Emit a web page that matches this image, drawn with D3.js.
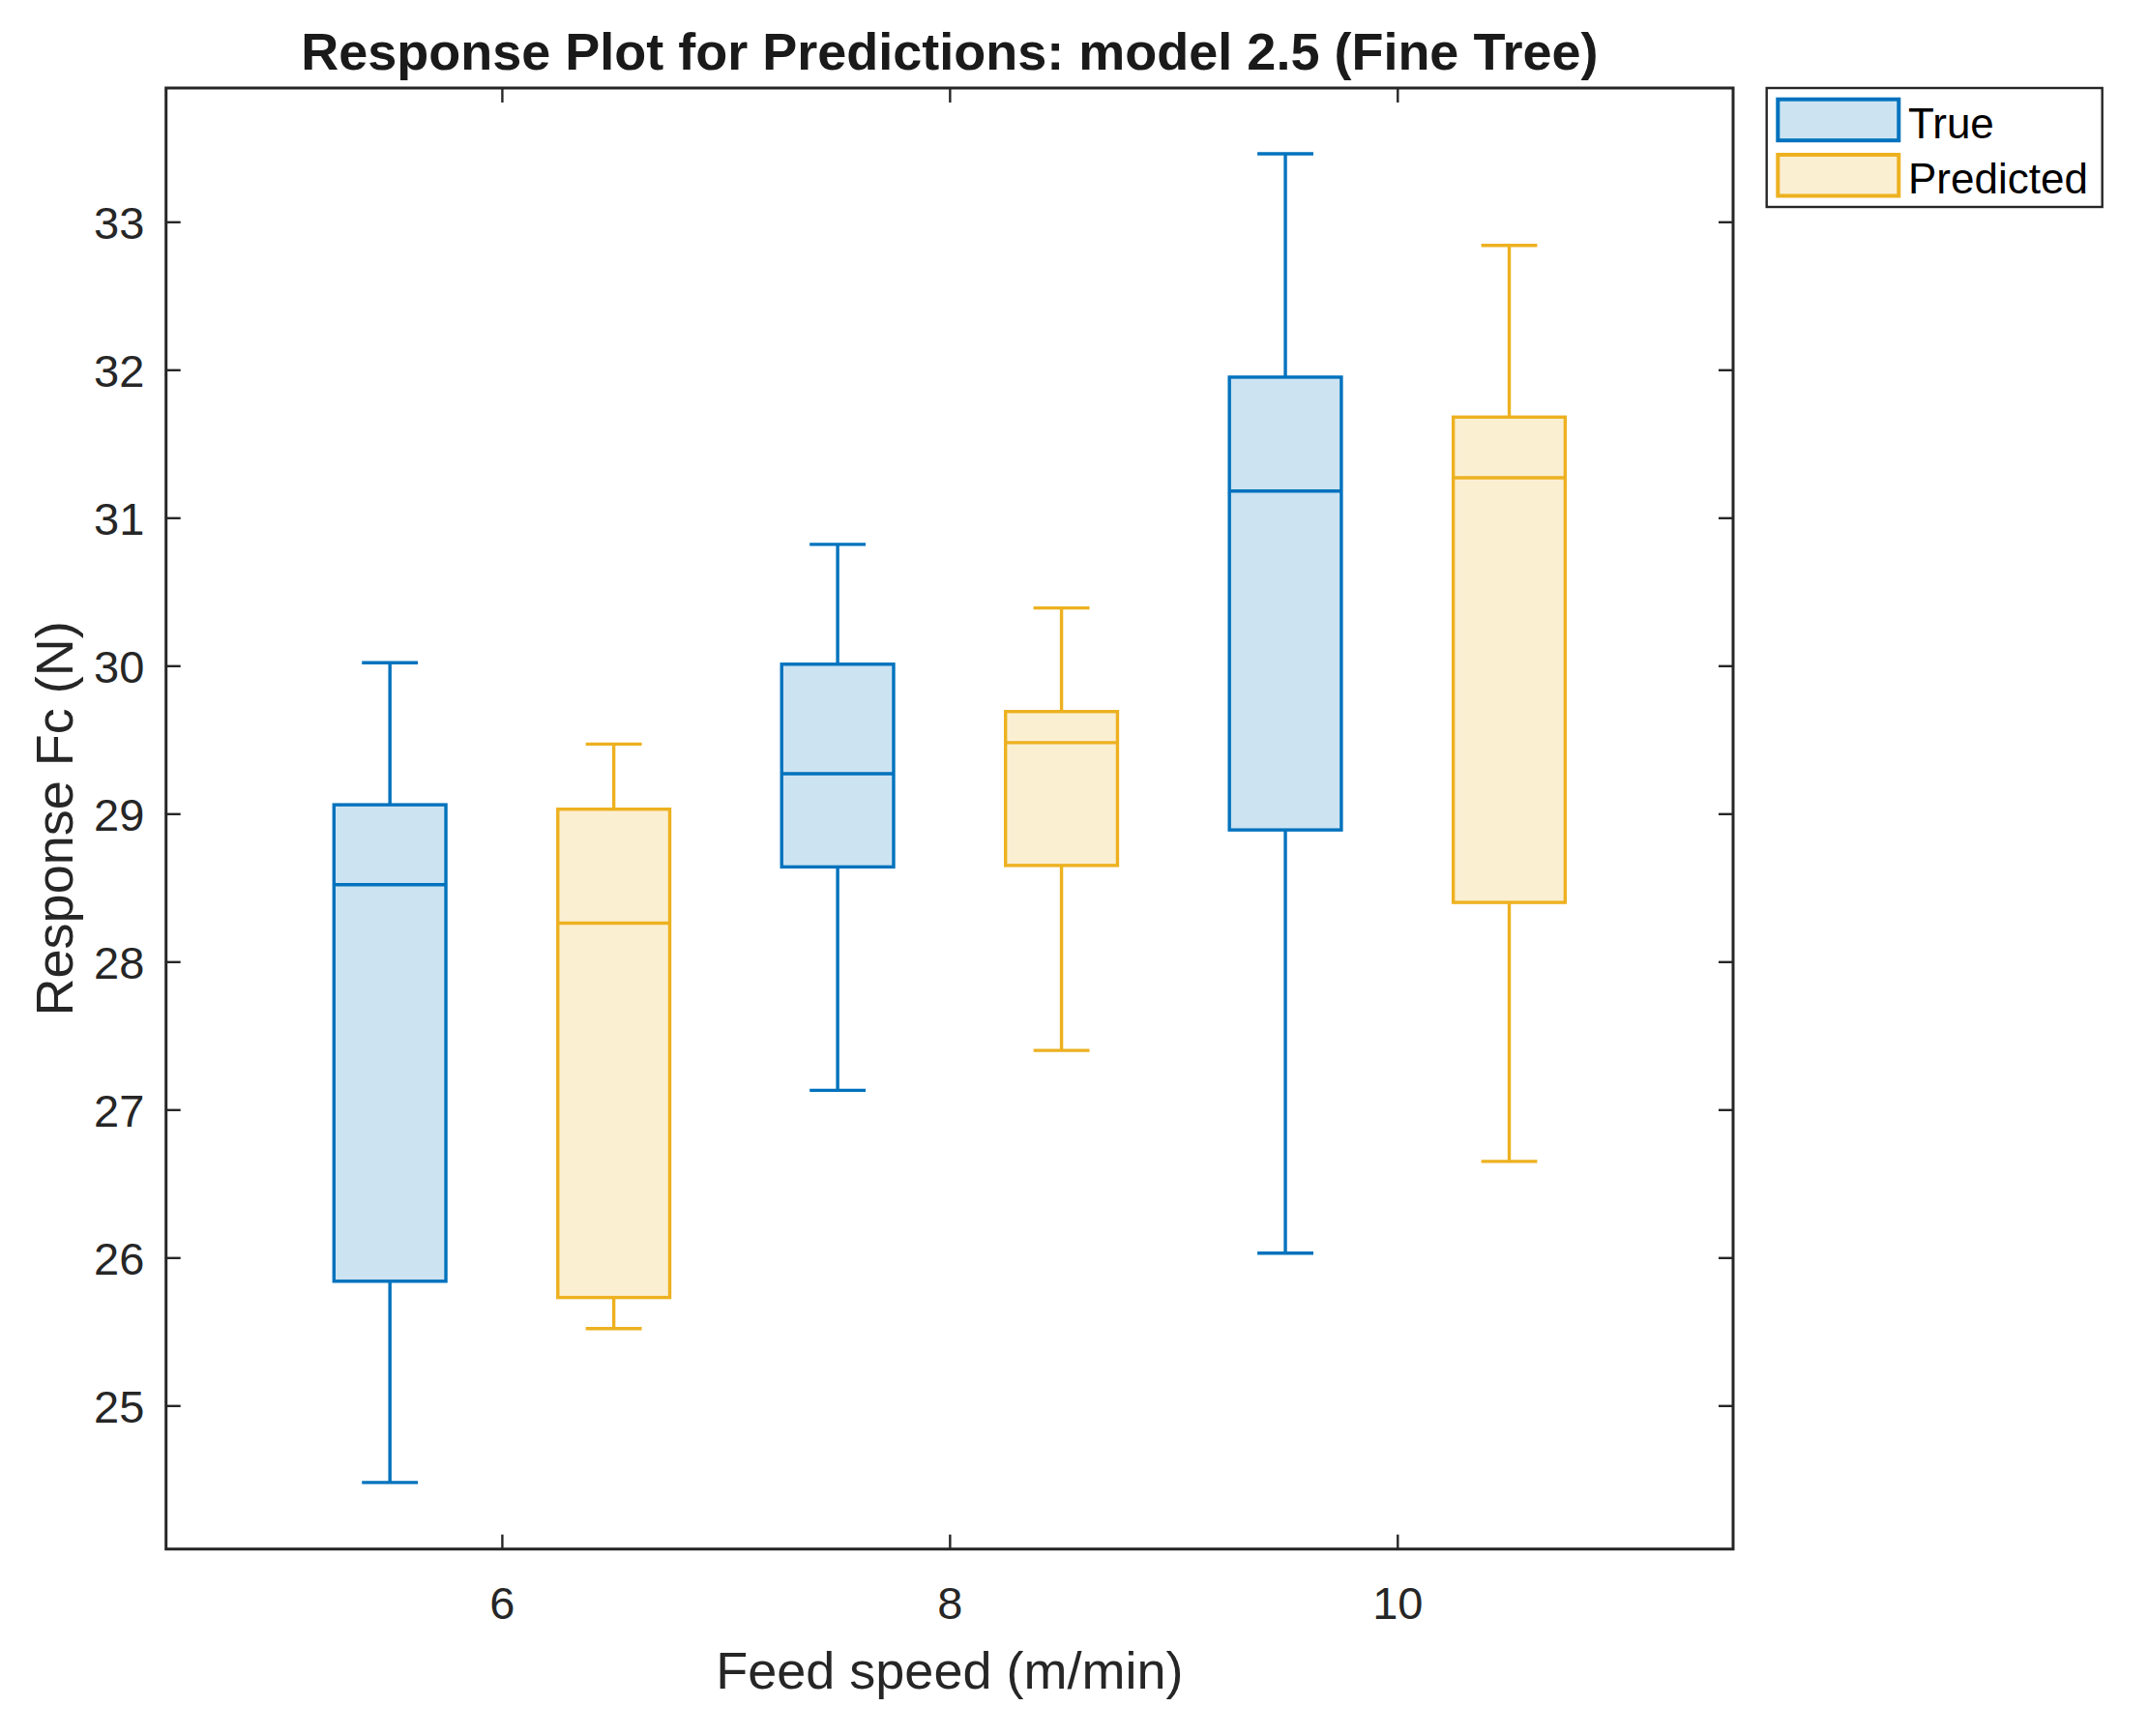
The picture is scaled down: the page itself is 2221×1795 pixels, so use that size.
<!DOCTYPE html>
<html>
<head>
<meta charset="utf-8">
<script src="https://cdn.jsdelivr.net/npm/d3@7"></script>
<style>
  html, body { margin: 0; padding: 0; background: #ffffff; }
  svg { display: block; font-family: "Liberation Sans", Arial, Helvetica, sans-serif; }
</style>
</head>
<body>
<svg id="chart" width="2221" height="1795"></svg>
<script>
// ---------------- data ----------------
const speeds = [6, 8, 10];
const seriesNames = ["True", "Predicted"];
const seriesOffsets = [-0.5, 0.5];

const trueLower  = [24.48, 27.13, 26.03];
const trueQ1     = [25.84, 28.64, 28.89];
const trueMedian = [28.52, 29.27, 31.18];
const trueQ3     = [29.06, 30.01, 31.95];
const trueUpper  = [30.02, 30.82, 33.46];

const predLower  = [25.52, 27.40, 26.65];
const predQ1     = [25.73, 28.65, 28.40];
const predMedian = [28.26, 29.48, 31.27];
const predQ3     = [29.03, 29.69, 31.68];
const predUpper  = [29.47, 30.39, 32.84];

const xTicks = [6, 8, 10];
const yTicks = [25, 26, 27, 28, 29, 30, 31, 32, 33];

const titleText = "Response Plot for Predictions: model 2.5 (Fine Tree)";
const xLabelText = "Feed speed (m/min)";
const yLabelText = "Response Fc (N)";

// ---------------- layout ----------------
const plot = { left: 171.7, right: 1792, top: 91, bottom: 1601.7 };
const strokeColors = ["#0072BD", "#EDB120"];
const fillColors = ["#CCE3F2", "#FBEFD2"];
const axisColor = "#262626";

const x = d3.scaleLinear().domain([4.5, 11.5]).range([plot.left, plot.right]);
const y = d3.scaleLinear().domain([24.03, 33.904]).range([plot.bottom, plot.top]);

const svg = d3.select("#chart");

const stats = [
  { lower: trueLower, q1: trueQ1, med: trueMedian, q3: trueQ3, upper: trueUpper },
  { lower: predLower, q1: predQ1, med: predMedian, q3: predQ3, upper: predUpper }
];

const boxes = [];
stats.forEach((s, si) => {
  speeds.forEach((sp, i) => {
    boxes.push({
      series: si, pos: sp + seriesOffsets[si],
      lower: s.lower[i], q1: s.q1[i], med: s.med[i], q3: s.q3[i], upper: s.upper[i]
    });
  });
});

const boxHalf = 0.25, capHalf = 0.125;
const lw = 3.4;

const g = svg.append("g");
boxes.forEach(b => {
  const c = strokeColors[b.series];
  const bg = g.append("g");
  // whiskers
  bg.append("line").attr("x1", x(b.pos)).attr("x2", x(b.pos))
    .attr("y1", y(b.q3)).attr("y2", y(b.upper)).attr("stroke", c).attr("stroke-width", lw);
  bg.append("line").attr("x1", x(b.pos)).attr("x2", x(b.pos))
    .attr("y1", y(b.q1)).attr("y2", y(b.lower)).attr("stroke", c).attr("stroke-width", lw);
  // caps
  [b.upper, b.lower].forEach(v => {
    bg.append("line").attr("x1", x(b.pos - capHalf)).attr("x2", x(b.pos + capHalf))
      .attr("y1", y(v)).attr("y2", y(v)).attr("stroke", c).attr("stroke-width", lw);
  });
  // box
  bg.append("rect")
    .attr("x", x(b.pos - boxHalf)).attr("width", x(b.pos + boxHalf) - x(b.pos - boxHalf))
    .attr("y", y(b.q3)).attr("height", y(b.q1) - y(b.q3))
    .attr("fill", fillColors[b.series]).attr("stroke", c).attr("stroke-width", lw);
  // median
  bg.append("line").attr("x1", x(b.pos - boxHalf)).attr("x2", x(b.pos + boxHalf))
    .attr("y1", y(b.med)).attr("y2", y(b.med)).attr("stroke", c).attr("stroke-width", lw);
});

// ---------------- axes ----------------
const tickLen = 15;
const fsTick = 47;

const xAxisB = svg.append("g").attr("transform", `translate(0,${plot.bottom})`)
  .call(d3.axisBottom(x).tickValues(xTicks).tickSize(-tickLen).tickFormat(d3.format("d")));
const xAxisT = svg.append("g").attr("transform", `translate(0,${plot.top})`)
  .call(d3.axisTop(x).tickValues(xTicks).tickSize(-tickLen).tickFormat(""));
const yAxisL = svg.append("g").attr("transform", `translate(${plot.left},0)`)
  .call(d3.axisLeft(y).tickValues(yTicks).tickSize(-tickLen).tickFormat(d3.format("d")));
const yAxisR = svg.append("g").attr("transform", `translate(${plot.right},0)`)
  .call(d3.axisRight(y).tickValues(yTicks).tickSize(-tickLen).tickFormat(""));

[xAxisB, xAxisT, yAxisL, yAxisR].forEach(a => {
  a.select(".domain").remove();
  a.selectAll(".tick line").attr("stroke", axisColor).attr("stroke-width", 2.4);
});

xAxisB.selectAll(".tick text")
  .attr("y", 72).attr("dy", null)
  .attr("font-size", fsTick).attr("fill", axisColor)
  .attr("font-family", "Liberation Sans, Arial, sans-serif");
yAxisL.selectAll(".tick text")
  .attr("x", -(plot.left - 149.3)).attr("dy", "0.36em")
  .attr("font-size", fsTick).attr("fill", axisColor)
  .attr("font-family", "Liberation Sans, Arial, sans-serif");

// frame
svg.append("rect")
  .attr("x", plot.left).attr("y", plot.top)
  .attr("width", plot.right - plot.left).attr("height", plot.bottom - plot.top)
  .attr("fill", "none").attr("stroke", axisColor).attr("stroke-width", 3);

// ---------------- labels ----------------
const cx = (plot.left + plot.right) / 2;
const cy = (plot.top + plot.bottom) / 2;

svg.append("text").attr("x", cx).attr("y", 72)
  .attr("text-anchor", "middle").attr("font-size", 54).attr("font-weight", "bold")
  .attr("fill", "#1a1a1a").text(titleText);

svg.append("text").attr("x", cx).attr("y", 1746)
  .attr("text-anchor", "middle").attr("font-size", 54)
  .attr("fill", axisColor).text(xLabelText);

svg.append("text").attr("transform", `translate(75,${cy}) rotate(-90)`)
  .attr("text-anchor", "middle").attr("font-size", 54)
  .attr("fill", axisColor).text(yLabelText);

// ---------------- legend ----------------
const leg = svg.append("g");
leg.append("rect").attr("x", 1826.7).attr("y", 91).attr("width", 347).attr("height", 123)
  .attr("fill", "#ffffff").attr("stroke", axisColor).attr("stroke-width", 2.4);
seriesNames.forEach((name, i) => {
  const top = i === 0 ? 102.7 : 160;
  leg.append("rect").attr("x", 1838.3).attr("y", top).attr("width", 125).attr("height", 42.5)
    .attr("fill", fillColors[i]).attr("stroke", strokeColors[i]).attr("stroke-width", lw + 0.6);
  leg.append("text").attr("x", 1973).attr("y", top + 40)
    .attr("font-size", 44).attr("fill", "#000000").text(name);
});
</script>
</body>
</html>
